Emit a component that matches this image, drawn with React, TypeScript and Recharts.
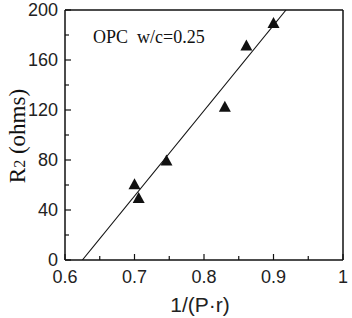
import React from 'react';
import {
  ComposedChart,
  Scatter,
  XAxis,
  YAxis,
  ReferenceLine,
  Customized,
} from 'recharts';

// Measured points: inverse of (P·r) against R2
const inverseProductValues = [0.7, 0.706, 0.746, 0.83, 0.861, 0.9];
const resistanceValues = [61, 50, 80, 123, 172, 190];

// Least-squares fit line end points
const fitInverseProduct = [0.625, 0.918];
const fitResistance = [0, 200];

const xTickValues = [0.6, 0.65, 0.7, 0.75, 0.8, 0.85, 0.9, 0.95, 1];
const xLabelValues = [0.6, 0.7, 0.8, 0.9, 1];
const yTickValues = [0, 20, 40, 60, 80, 100, 120, 140, 160, 180, 200];
const yLabelValues = [0, 40, 80, 120, 160, 200];

const annotationText = 'OPC  w/c=0.25';
const xAxisTitle = '1/(P·r)';

const points = inverseProductValues.map((x, i) => ({ x, y: resistanceValues[i] }));
const fitPoints = fitInverseProduct.map((x, i) => ({ x, y: fitResistance[i] }));

const INK = '#111';
const TICK_FONT = '"Liberation Sans", Arial, sans-serif';
const SERIF_FONT = '"Liberation Serif", "Times New Roman", serif';

const XTick = (props: any) => {
  const { x, y, payload } = props;
  const v = payload.value as number;
  const major = xLabelValues.includes(v);
  return (
    <g>
      <line x1={x} y1={y} x2={x} y2={y - (major ? 6 : 4)} stroke={INK} strokeWidth={1.2} />
      {major && (
        <text x={x} y={y + 23} textAnchor="middle" fontSize={18} fontFamily={TICK_FONT} fill="#222">
          {String(v)}
        </text>
      )}
    </g>
  );
};

const YTick = (props: any) => {
  const { x, y, payload } = props;
  const v = payload.value as number;
  const major = yLabelValues.includes(v);
  return (
    <g>
      <line x1={x} y1={y} x2={x + (major ? 6 : 4)} y2={y} stroke={INK} strokeWidth={1.2} />
      {major && (
        <text
          x={x - 7}
          y={y}
          textAnchor="end"
          dominantBaseline="central"
          fontSize={18}
          fontFamily={TICK_FONT}
          fill="#222"
        >
          {String(v)}
        </text>
      )}
    </g>
  );
};

const Triangle = (props: any) => {
  const { cx, cy } = props;
  if (cx == null || cy == null) return <g />;
  const w = 12;
  const h = 11;
  return (
    <polygon
      points={`${cx},${cy - h / 2} ${cx - w / 2},${cy + h / 2} ${cx + w / 2},${cy + h / 2}`}
      fill={INK}
    />
  );
};

const NoDot = () => <g />;

const XTitle = (props: any) => {
  const { viewBox } = props;
  const cx = viewBox.x + viewBox.width / 2 - 4;
  return (
    <text x={cx} y={viewBox.y + 52} textAnchor="middle" fontSize={21} fontFamily={TICK_FONT} fill="#222">
      {xAxisTitle}
    </text>
  );
};

const YTitle = (props: any) => {
  const { viewBox } = props;
  const bx = 25;
  const cy = viewBox.y + viewBox.height / 2 + 1;
  return (
    <text
      x={bx}
      y={cy}
      transform={`rotate(-90, ${bx}, ${cy})`}
      textAnchor="middle"
      fontSize={23}
      fontFamily={SERIF_FONT}
      fill={INK}
    >
      R<tspan fontSize={16}>2</tspan> (ohms)
    </text>
  );
};

const Annotation = () => (
  <text
    x={93}
    y={43}
    fontSize={18}
    fontFamily={SERIF_FONT}
    fill={INK}
    style={{ whiteSpace: 'pre' }}
    xmlSpace="preserve"
  >
    {annotationText}
  </text>
);

export default function App() {
  return (
    <div style={{ position: 'absolute', left: 0, top: 0, background: '#fff' }}>
      <ComposedChart
        width={352}
        height={318}
        margin={{ top: 10, right: 9, bottom: 0, left: 0 }}
        style={{ background: '#fff' }}
      >
        <XAxis
          type="number"
          dataKey="x"
          domain={[0.6, 1]}
          ticks={xTickValues}
          interval={0}
          allowDataOverflow
          tickLine={false}
          tickSize={0}
          tickMargin={0}
          tick={<XTick />}
          axisLine={{ stroke: INK, strokeWidth: 1.5 }}
          height={58}
          label={{ content: XTitle }}
        />
        <YAxis
          type="number"
          dataKey="y"
          domain={[0, 200]}
          ticks={yTickValues}
          interval={0}
          allowDataOverflow
          tickLine={false}
          tickSize={0}
          tickMargin={0}
          tick={<YTick />}
          axisLine={{ stroke: INK, strokeWidth: 1.5 }}
          width={65}
          label={{ content: YTitle }}
        />
        <ReferenceLine x={1} stroke={INK} strokeWidth={1.5} />
        <ReferenceLine y={200} stroke={INK} strokeWidth={1.5} />
        <Scatter
          data={fitPoints}
          line={{ stroke: INK, strokeWidth: 1.1 }}
          shape={NoDot}
          isAnimationActive={false}
        />
        <Scatter data={points} shape={Triangle} isAnimationActive={false} />
        <Customized component={Annotation} />
      </ComposedChart>
    </div>
  );
}
